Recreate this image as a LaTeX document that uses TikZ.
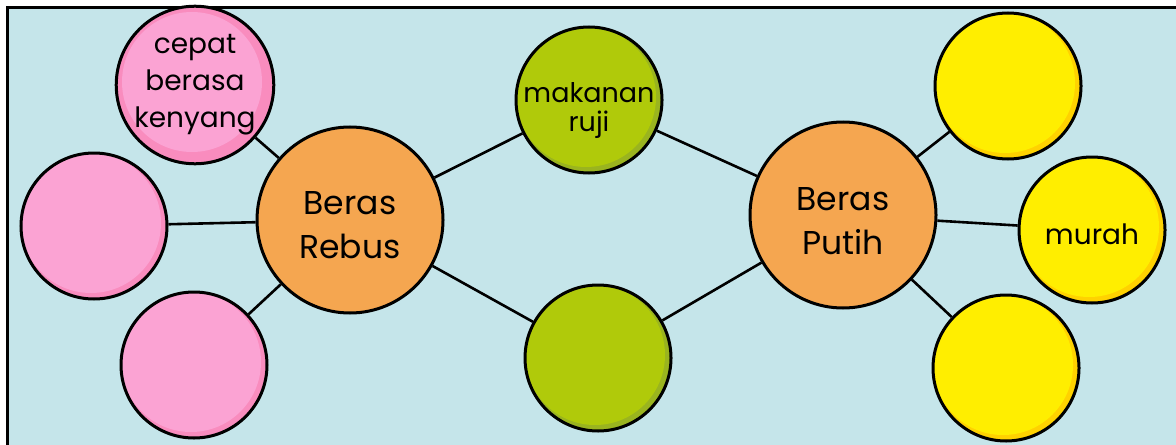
\documentclass[tikz,border=0pt]{standalone}
\usepackage{fontspec}
\setmainfont{Poppins}
\usetikzlibrary{positioning,shapes}

\definecolor{sky}{HTML}{C5E5EA}
\definecolor{pinklt}{HTML}{FBA3D3}
\definecolor{pinkdk}{HTML}{F98CBE}
\definecolor{leaflt}{HTML}{B0CA0A}
\definecolor{leafdk}{HTML}{9AB41F}
\definecolor{sunlt}{HTML}{FFEE00}
\definecolor{sundk}{HTML}{FFD200}
\definecolor{rice}{HTML}{F5A650}

\tikzset{
  ball/.style 2 args={circle, draw, line width=1.5pt, minimum size=73pt, inner sep=0pt,
    align=center, font=\fontsize{14}{18.5}\selectfont, fill=#2,
    path picture={\fill[#1] ([shift={(-1.5pt,1.5pt)}]path picture bounding box.center) circle[radius=35pt];}},
  hub/.style={circle, draw, line width=1.5pt, minimum size=93pt, inner sep=0pt, fill=rice},
  bigwords/.style={align=center, inner sep=0pt, font=\fontsize{16.5}{22}\selectfont},
  words/.style={align=center, inner sep=0pt, font=\fontsize{13.5}{14.5}\selectfont},
  link/.style={line width=1.3pt}
}

\begin{document}
\begin{tikzpicture}[x=0.5pt, y=-0.5pt]
      %\draw[help lines, step=50] (0,0) grid (1176,444);
      \useasboundingbox (0,0) rectangle (1176,444);
      \clip (0,0) rectangle (1176,444);

      \draw[line width=1.5pt, fill=sky] (7.5,7.5) rectangle (1200,470);

      \node[hub, label={[name=rebustext, bigwords, yshift=-2.5pt]center:Beras\\Rebus}] (rebus) at (350,220) {};
      \node[hub, label={[name=putihtext, bigwords, yshift=-3pt]center:Beras\\Putih}] (putih) at (843,215) {};

      \node[ball={pinklt}{pinkdk}] (kenyang) at (195,85) {cepat\\berasa\\kenyang};
      \node[ball={pinklt}{pinkdk}] (rebusmid) at (94,226) {};
      \node[ball={pinklt}{pinkdk}] (rebuslow) at (194,365) {};

      \node[ball={leaflt}{leafdk}, label={[name=rujitext, words, yshift=-5.5pt]center:makanan\\ruji}] (ruji) at (589,100) {};
      \node[ball={leaflt}{leafdk}] (bawah) at (598,358) {};

      \node[ball={sunlt}{sundk}] (putihtop) at (1008,86) {};
      \node[ball={sunlt}{sundk}, label={[name=murahtext, words, font=\fontsize{14}{16}\selectfont, yshift=-2pt]center:murah}] (murah) at (1092,230) {};
      \node[ball={sunlt}{sundk}] (putihlow) at (1006,368) {};

      \draw[link] (rebus) -- (kenyang);
      \draw[link] (rebus) -- (rebusmid);
      \draw[link] (rebus) -- (rebuslow);
      \draw[link] (rebus) -- (ruji);
      \draw[link] (rebus) -- (bawah);

      \draw[link] (putih) -- (ruji);
      \draw[link] (putih) -- (bawah);
      \draw[link] (putih) -- (putihtop);
      \draw[link] (putih) -- (murah);
      \draw[link] (putih) -- (putihlow);
\end{tikzpicture}
\end{document}
